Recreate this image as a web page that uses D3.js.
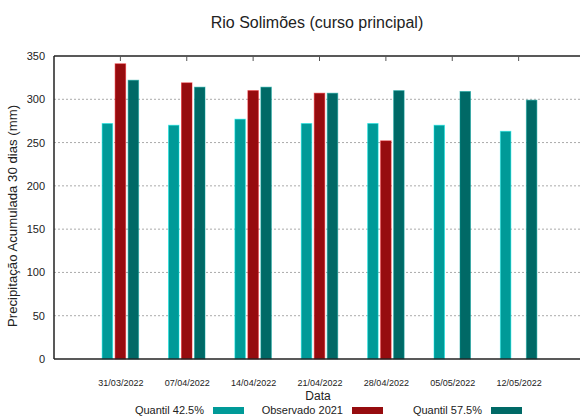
<!DOCTYPE html>
<html>
<head>
<meta charset="utf-8">
<script src="https://cdn.jsdelivr.net/npm/d3@7"></script>
<style>
  body { margin: 0; background: #fff; }
  svg { font-family: "Liberation Sans", Arial, sans-serif; }
</style>
</head>
<body>
<svg id="chart" width="580" height="418"></svg>
<script>
// data
var dates = ["31/03/2022", "07/04/2022", "14/04/2022", "21/04/2022", "28/04/2022", "05/05/2022", "12/05/2022"];
var quantil425 = [272, 270, 277, 272, 272, 270, 263];
var observado2021 = [341, 319, 310, 307, 252, null, null];
var quantil575 = [322, 314, 314, 307, 310, 309, 299];
var seriesNames = ["Quantil 42.5%", "Observado 2021", "Quantil 57.5%"];
var seriesColors = ["#009a98", "#960c0f", "#006966"];
var yTicks = [0, 50, 100, 150, 200, 250, 300, 350];

var svg = d3.select("#chart");
var plotLeft = 54, plotRight = 585, plotTop = 56, plotBottom = 359;

// one empty slot each side, like the original
var x = d3.scalePoint().domain(["_a"].concat(dates, ["_b"])).range([plotLeft, plotRight]);
var y = d3.scaleLinear().domain([0, 350]).range([plotBottom, plotTop]);

var series = [quantil425, observado2021, quantil575];
var barW = 10.5, step = 13;

// grid
svg.append("g").selectAll("line")
    .data(yTicks.filter(function(d) { return d > 0 && d < 350; }))
    .enter().append("line")
    .attr("x1", plotLeft).attr("x2", plotRight)
    .attr("y1", function(d) { return y(d); })
    .attr("y2", function(d) { return y(d); })
    .style("stroke", "#aaa")
    .style("stroke-width", 1)
    .style("stroke-dasharray", "2,2");

// bars
series.forEach(function(vals, s) {
    svg.append("g").selectAll("rect")
        .data(vals.map(function(v, i) { return {v: v, d: dates[i]}; }).filter(function(o) { return o.v != null; }))
        .enter().append("rect")
        .attr("x", function(o) { return x(o.d) + (s - 1) * step - barW / 2; })
        .attr("y", function(o) { return y(o.v); })
        .attr("width", barW)
        .attr("height", function(o) { return y(0) - y(o.v); })
        .style("fill", seriesColors[s])
        .style("stroke", d3.color(seriesColors[s]).brighter(1.2))
        .style("stroke-opacity", 0.5)
        .style("stroke-width", 1);
});

// frame
svg.append("line").attr("x1", plotLeft).attr("x2", plotRight).attr("y1", plotTop).attr("y2", plotTop)
    .style("stroke", "#222").style("stroke-width", 1.5);
svg.append("line").attr("x1", plotLeft).attr("x2", plotRight).attr("y1", plotBottom).attr("y2", plotBottom)
    .style("stroke", "#222").style("stroke-width", 1.5);
svg.append("line").attr("x1", plotLeft).attr("x2", plotLeft).attr("y1", plotTop).attr("y2", plotBottom)
    .style("stroke", "#222").style("stroke-width", 1.5);

// top ticks
svg.append("g").selectAll("line").data(dates).enter().append("line")
    .attr("x1", function(d) { return x(d); }).attr("x2", function(d) { return x(d); })
    .attr("y1", plotTop).attr("y2", plotTop + 5)
    .style("stroke", "#555").style("stroke-width", 1);

// y axis labels
var yAxis = d3.axisLeft(y).tickValues(yTicks).tickSize(0).tickPadding(9);
var ya = svg.append("g").attr("transform", "translate(" + plotLeft + ",0)").call(yAxis);
ya.select(".domain").remove();
ya.selectAll("text").style("font-size", "11px").style("fill", "#222");

// x labels
var xAxis = d3.axisBottom(x).tickValues(dates).tickSize(0).tickPadding(21);
var xa = svg.append("g").attr("transform", "translate(0," + plotBottom + ")").call(xAxis);
xa.select(".domain").remove();
xa.selectAll("text").style("font-size", "9px").style("fill", "#222");

// titles
svg.append("text").attr("x", 317).attr("y", 28).attr("text-anchor", "middle")
    .style("font-size", "16px").style("fill", "#222").text("Rio Solimões (curso principal)");
svg.append("text").attr("x", 318).attr("y", 400).attr("text-anchor", "middle")
    .style("font-size", "12px").style("fill", "#222").text("Data");
svg.append("text").attr("transform", "translate(17,216) rotate(-90)")
    .attr("text-anchor", "middle")
    .style("font-size", "13.2px").style("fill", "#222").text("Precipitação Acumulada 30 dias (mm)");

// legend
var legendX = [204, 343, 482];
var lg = svg.append("g").selectAll("g").data(seriesNames).enter().append("g");
lg.append("text")
    .attr("x", function(d, i) { return legendX[i]; }).attr("y", 414)
    .attr("text-anchor", "end")
    .style("font-size", "11px").style("fill", "#222")
    .text(function(d) { return d; });
lg.append("rect")
    .attr("x", function(d, i) { return legendX[i] + 9; }).attr("y", 407)
    .attr("width", 31).attr("height", 7)
    .style("fill", function(d, i) { return seriesColors[i]; });
</script>
</body>
</html>
